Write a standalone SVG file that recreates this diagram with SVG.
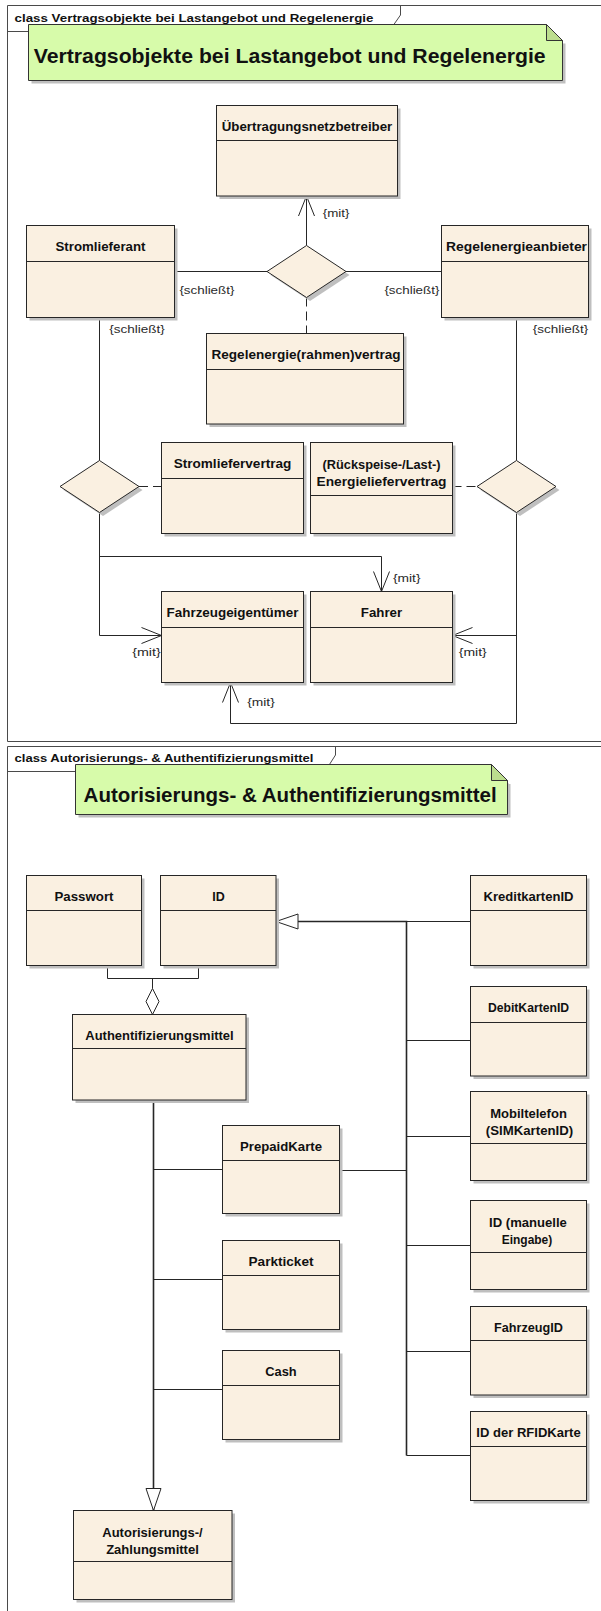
<svg xmlns="http://www.w3.org/2000/svg" width="601" height="1611" viewBox="0 0 601 1611">
<style>
.bg{fill:#ffffff}
.frame{fill:none;stroke:#4a4a4a;stroke-width:1}
.ftxt{font-family:"Liberation Sans",Arial,sans-serif;font-weight:bold;font-size:11.5px;fill:#111}
.note{fill:#D7FBAA;stroke:#333;stroke-width:1}
.fold{fill:#BCDD8E;stroke:#333;stroke-width:1}
.sh{fill:#BFBFBF}
.title{font-family:"Liberation Sans",Arial,sans-serif;font-weight:bold;font-size:21px;fill:#111}
.box{fill:#FAF0E1;stroke:#262626;stroke-width:1}
.hl{stroke:#262626;stroke-width:1;fill:none}
.name{font-family:"Liberation Sans",Arial,sans-serif;font-weight:bold;font-size:12.5px;fill:#111;text-anchor:middle}
.lbl{font-family:"Liberation Sans",Arial,sans-serif;font-size:11.5px;fill:#2a2a2a}
.c{fill:none;stroke:#262626;stroke-width:1}
.dash{stroke-dasharray:9 5}
.trunk{stroke-width:1.6}
.dia{fill:#FAF0E1;stroke:#262626;stroke-width:1}
</style>
<defs>
<marker id="open" markerUnits="userSpaceOnUse" markerWidth="24" markerHeight="20" viewBox="-2 -2 24 20" refX="20" refY="8" orient="auto">
<path d="M0,0 L20,8 L0,16" fill="none" stroke="#262626" stroke-width="1"/>
</marker>
<marker id="gen" markerUnits="userSpaceOnUse" markerWidth="26" markerHeight="19" viewBox="-2 -2 26 19" refX="22" refY="7.5" orient="auto">
<path d="M0,0 L22,7.5 L0,15 Z" fill="#ffffff" stroke="#262626" stroke-width="1"/>
</marker>
</defs>
<rect class="bg" x="0" y="0" width="601" height="1611"/>

<!-- Frame 1 -->
<g id="frame1">
<path class="frame" d="M610,5.5 H7.5 V741.5 H610"/>
<path class="frame" d="M7.5,31.5 H389 L400.5,15 V5.5"/>
<text class="ftxt" x="14.5" y="21.5" textLength="359" lengthAdjust="spacingAndGlyphs">class Vertragsobjekte bei Lastangebot und Regelenergie</text>
</g>
<g id="note1">
<polygon class="sh" points="31.5,27.5 565.5,43.5 565.5,83.5 31.5,83.5"/>
<polygon class="note" points="28.5,24.5 546.5,24.5 562.5,40.5 562.5,80.5 28.5,80.5"/>
<polygon class="fold" points="546.5,24.5 546.5,40.5 562.5,40.5"/>
<text class="title" x="33.7" y="63" textLength="512" lengthAdjust="spacingAndGlyphs">Vertragsobjekte bei Lastangebot und Regelenergie</text>
</g>

<!-- Frame 2 -->
<g id="frame2">
<path class="frame" d="M610,746.5 H7.5 V1620"/>
<path class="frame" d="M7.5,771.5 H325 L335.5,755 V746.5"/>
<text class="ftxt" x="14.5" y="761.5" textLength="299" lengthAdjust="spacingAndGlyphs">class Autorisierungs- &amp; Authentifizierungsmittel</text>
</g>
<g id="note2">
<polygon class="sh" points="78.5,767.5 510.5,783.5 510.5,817.5 78.5,817.5"/>
<polygon class="note" points="75.5,764.5 491.5,764.5 507.5,780.5 507.5,814.5 75.5,814.5"/>
<polygon class="fold" points="491.5,764.5 491.5,780.5 507.5,780.5"/>
<text class="title" x="83.6" y="801.5" textLength="413" lengthAdjust="spacingAndGlyphs">Autorisierungs- &amp; Authentifizierungsmittel</text>
</g>

<!-- Connectors -->
<g id="connectors">
<path class="c" d="M306.5,245.5 V196" marker-end="url(#open)"/>
<path class="c" d="M174.5,271.5 H267"/>
<path class="c" d="M346,271.5 H441.5"/>
<path class="c dash" d="M306.5,297.5 V333.5"/>
<path class="c" d="M99.5,317.5 V460.5"/>
<path class="c" d="M516.5,317.5 V460.5"/>
<path class="c dash" d="M139,486.5 H161.5"/>
<path class="c dash" d="M452.5,486.5 H477"/>
<path class="c" d="M99.5,512.5 V635.5 H161.5" marker-end="url(#open)"/>
<path class="c" d="M99.5,556.5 H381.5 V591.5" marker-end="url(#open)"/>
<path class="c" d="M516.5,512.5 V723.5 H230.5 V682.5" marker-end="url(#open)"/>
<path class="c" d="M516.5,635.5 H452.5" marker-end="url(#open)"/>

<path class="c" d="M406.5,921.5 H470.5"/>
<path class="c" d="M406.5,1040.5 H470.5"/>
<path class="c" d="M406.5,1136.5 H470.5"/>
<path class="c" d="M406.5,1245.5 H470.5"/>
<path class="c" d="M406.5,1351.5 H470.5"/>
<path class="c" d="M406.5,1455.5 H470.5"/>
<path class="c" d="M339.5,1170.5 H406.5"/>
<path class="c trunk" d="M406.5,1455.5 V921.5 H276" marker-end="url(#gen)"/>

<path class="c" d="M107.5,965.5 V978.5 H198.5 V965.5"/>
<path class="c" d="M152.5,978.5 V988.5"/>
<polygon points="152.5,988.5 159,1001.5 152.5,1014.5 146,1001.5" fill="#ffffff" stroke="#262626" stroke-width="1"/>

<path class="c" d="M153.5,1169.5 H222.5"/>
<path class="c" d="M153.5,1279.5 H222.5"/>
<path class="c" d="M153.5,1389.5 H222.5"/>
<path class="c trunk" d="M153.5,1100 V1510.5" marker-end="url(#gen)"/>

<text class="lbl" x="322.7" y="217" textLength="26.7" lengthAdjust="spacingAndGlyphs">{mit}</text>
<text class="lbl" x="179.4" y="294" textLength="55" lengthAdjust="spacingAndGlyphs">{schließt}</text>
<text class="lbl" x="384.4" y="294" textLength="55" lengthAdjust="spacingAndGlyphs">{schließt}</text>
<text class="lbl" x="109.2" y="333" textLength="55.5" lengthAdjust="spacingAndGlyphs">{schließt}</text>
<text class="lbl" x="532.8" y="333" textLength="55.5" lengthAdjust="spacingAndGlyphs">{schließt}</text>
<text class="lbl" x="392.9" y="582" textLength="27.6" lengthAdjust="spacingAndGlyphs">{mit}</text>
<text class="lbl" x="132.2" y="656" textLength="28.5" lengthAdjust="spacingAndGlyphs">{mit}</text>
<text class="lbl" x="458.8" y="656" textLength="28" lengthAdjust="spacingAndGlyphs">{mit}</text>
<text class="lbl" x="247.2" y="705.5" textLength="27.6" lengthAdjust="spacingAndGlyphs">{mit}</text>
</g>

<!-- Diamonds (n-ary associations) -->
<g id="assoc1">
<polygon class="sh" points="310,249 349.5,275 310,301 270.5,275"/>
<polygon class="dia" points="306.5,245.5 346,271.5 306.5,297.5 267,271.5"/>
</g>
<g id="assoc2">
<polygon class="sh" points="103,464 142.5,490 103,516 63.5,490"/>
<polygon class="dia" points="99.5,460.5 139,486.5 99.5,512.5 60,486.5"/>
</g>
<g id="assoc3">
<polygon class="sh" points="520,464 559.5,490 520,516 480.5,490"/>
<polygon class="dia" points="516.5,460.5 556,486.5 516.5,512.5 477,486.5"/>
</g>

<!-- Frame 1 nodes -->
<g id="uenb">
<rect class="sh" x="219.5" y="108.5" width="181" height="90.5"/>
<rect class="box" x="216.5" y="105.5" width="181" height="90.5"/>
<path class="hl" d="M216.5,140.5 H397.5"/>
<text class="name" x="307" y="131" textLength="170.6" lengthAdjust="spacingAndGlyphs">Übertragungsnetzbetreiber</text>
</g>
<g id="stromlieferant">
<rect class="sh" x="29.5" y="228.5" width="148" height="92"/>
<rect class="box" x="26.5" y="225.5" width="148" height="92"/>
<path class="hl" d="M26.5,261.5 H174.5"/>
<text class="name" x="100.5" y="251" textLength="90" lengthAdjust="spacingAndGlyphs">Stromlieferant</text>
</g>
<g id="regelenergieanbieter">
<rect class="sh" x="444.5" y="228.5" width="147" height="92"/>
<rect class="box" x="441.5" y="225.5" width="147" height="92"/>
<path class="hl" d="M441.5,261.5 H588.5"/>
<text class="name" x="516.5" y="251" textLength="141" lengthAdjust="spacingAndGlyphs">Regelenergieanbieter</text>
</g>
<g id="rahmenvertrag">
<rect class="sh" x="209.5" y="336.5" width="197" height="90.5"/>
<rect class="box" x="206.5" y="333.5" width="197" height="90.5"/>
<path class="hl" d="M206.5,369.5 H403.5"/>
<text class="name" x="306" y="359" textLength="189" lengthAdjust="spacingAndGlyphs">Regelenergie(rahmen)vertrag</text>
</g>
<g id="stromliefervertrag">
<rect class="sh" x="164.5" y="445.5" width="142" height="91"/>
<rect class="box" x="161.5" y="442.5" width="142" height="91"/>
<path class="hl" d="M161.5,478.5 H303.5"/>
<text class="name" x="232.5" y="468" textLength="117.7" lengthAdjust="spacingAndGlyphs">Stromliefervertrag</text>
</g>
<g id="energieliefervertrag">
<rect class="sh" x="313.5" y="445.5" width="142" height="91"/>
<rect class="box" x="310.5" y="442.5" width="142" height="91"/>
<path class="hl" d="M310.5,495.5 H452.5"/>
<text class="name" x="381.5" y="468.5" textLength="118" lengthAdjust="spacingAndGlyphs">(Rückspeise-/Last-)</text>
<text class="name" x="381.5" y="486" textLength="130" lengthAdjust="spacingAndGlyphs">Energieliefervertrag</text>
</g>
<g id="fahrzeugeigentuemer">
<rect class="sh" x="164.5" y="594.5" width="142" height="91"/>
<rect class="box" x="161.5" y="591.5" width="142" height="91"/>
<path class="hl" d="M161.5,627.5 H303.5"/>
<text class="name" x="232.5" y="617" textLength="131.8" lengthAdjust="spacingAndGlyphs">Fahrzeugeigentümer</text>
</g>
<g id="fahrer">
<rect class="sh" x="313.5" y="594.5" width="142" height="91"/>
<rect class="box" x="310.5" y="591.5" width="142" height="91"/>
<path class="hl" d="M310.5,627.5 H452.5"/>
<text class="name" x="381.5" y="617" textLength="41.4" lengthAdjust="spacingAndGlyphs">Fahrer</text>
</g>

<!-- Frame 2 nodes -->
<g id="passwort">
<rect class="sh" x="29.5" y="878.5" width="115" height="90"/>
<rect class="box" x="26.5" y="875.5" width="115" height="90"/>
<path class="hl" d="M26.5,910.5 H141.5"/>
<text class="name" x="84" y="901" textLength="59" lengthAdjust="spacingAndGlyphs">Passwort</text>
</g>
<g id="id">
<rect class="sh" x="163.5" y="878.5" width="115.5" height="90"/>
<rect class="box" x="160.5" y="875.5" width="115.5" height="90"/>
<path class="hl" d="M160.5,910.5 H276"/>
<text class="name" x="218.5" y="901">ID</text>
</g>
<g id="kreditkartenid">
<rect class="sh" x="473.5" y="878.5" width="116" height="90"/>
<rect class="box" x="470.5" y="875.5" width="116" height="90"/>
<path class="hl" d="M470.5,910.5 H586.5"/>
<text class="name" x="528.5" y="901" textLength="90" lengthAdjust="spacingAndGlyphs">KreditkartenID</text>
</g>
<g id="debitkartenid">
<rect class="sh" x="473.5" y="989.5" width="116" height="89.5"/>
<rect class="box" x="470.5" y="986.5" width="116" height="89.5"/>
<path class="hl" d="M470.5,1022.5 H586.5"/>
<text class="name" x="528.5" y="1012" textLength="81.2" lengthAdjust="spacingAndGlyphs">DebitKartenID</text>
</g>
<g id="mobiltelefon">
<rect class="sh" x="473.5" y="1094.5" width="116" height="89"/>
<rect class="box" x="470.5" y="1091.5" width="116" height="89"/>
<path class="hl" d="M470.5,1143.5 H586.5"/>
<text class="name" x="528.5" y="1117.5" textLength="76.7" lengthAdjust="spacingAndGlyphs">Mobiltelefon</text>
<text class="name" x="529.5" y="1134.5" textLength="87.4" lengthAdjust="spacingAndGlyphs">(SIMKartenID)</text>
</g>
<g id="idmanuell">
<rect class="sh" x="473.5" y="1203.5" width="116" height="89"/>
<rect class="box" x="470.5" y="1200.5" width="116" height="89"/>
<path class="hl" d="M470.5,1252.5 H586.5"/>
<text class="name" x="528" y="1226.5" textLength="77.8" lengthAdjust="spacingAndGlyphs">ID (manuelle</text>
<text class="name" x="527" y="1243.5" textLength="50.6" lengthAdjust="spacingAndGlyphs">Eingabe)</text>
</g>
<g id="fahrzeugid">
<rect class="sh" x="473.5" y="1309.5" width="116" height="88.5"/>
<rect class="box" x="470.5" y="1306.5" width="116" height="88.5"/>
<path class="hl" d="M470.5,1340.5 H586.5"/>
<text class="name" x="528.5" y="1332" textLength="69" lengthAdjust="spacingAndGlyphs">FahrzeugID</text>
</g>
<g id="rfidkarte">
<rect class="sh" x="473.5" y="1414.5" width="116" height="89"/>
<rect class="box" x="470.5" y="1411.5" width="116" height="89"/>
<path class="hl" d="M470.5,1446.5 H586.5"/>
<text class="name" x="528.5" y="1437" textLength="104.3" lengthAdjust="spacingAndGlyphs">ID der RFIDKarte</text>
</g>
<g id="authentifizierungsmittel">
<rect class="sh" x="75.5" y="1017.5" width="173.5" height="85.5"/>
<rect class="box" x="72.5" y="1014.5" width="173.5" height="85.5"/>
<path class="hl" d="M72.5,1048.5 H246"/>
<text class="name" x="159.5" y="1039.5" textLength="148.4" lengthAdjust="spacingAndGlyphs">Authentifizierungsmittel</text>
</g>
<g id="prepaidkarte">
<rect class="sh" x="225.5" y="1128.5" width="117" height="88"/>
<rect class="box" x="222.5" y="1125.5" width="117" height="88"/>
<path class="hl" d="M222.5,1160.5 H339.5"/>
<text class="name" x="281" y="1151" textLength="82" lengthAdjust="spacingAndGlyphs">PrepaidKarte</text>
</g>
<g id="parkticket">
<rect class="sh" x="225.5" y="1243.5" width="117" height="89"/>
<rect class="box" x="222.5" y="1240.5" width="117" height="89"/>
<path class="hl" d="M222.5,1275.5 H339.5"/>
<text class="name" x="281" y="1266" textLength="65" lengthAdjust="spacingAndGlyphs">Parkticket</text>
</g>
<g id="cash">
<rect class="sh" x="225.5" y="1353.5" width="117" height="89"/>
<rect class="box" x="222.5" y="1350.5" width="117" height="89"/>
<path class="hl" d="M222.5,1385.5 H339.5"/>
<text class="name" x="281" y="1376" textLength="31.4" lengthAdjust="spacingAndGlyphs">Cash</text>
</g>
<g id="zahlungsmittel">
<rect class="sh" x="76.5" y="1513.5" width="158.5" height="89"/>
<rect class="box" x="73.5" y="1510.5" width="158.5" height="89"/>
<path class="hl" d="M73.5,1561.5 H232"/>
<text class="name" x="152.5" y="1537" textLength="100.4" lengthAdjust="spacingAndGlyphs">Autorisierungs-/</text>
<text class="name" x="152.5" y="1554" textLength="92.7" lengthAdjust="spacingAndGlyphs">Zahlungsmittel</text>
</g>
</svg>
